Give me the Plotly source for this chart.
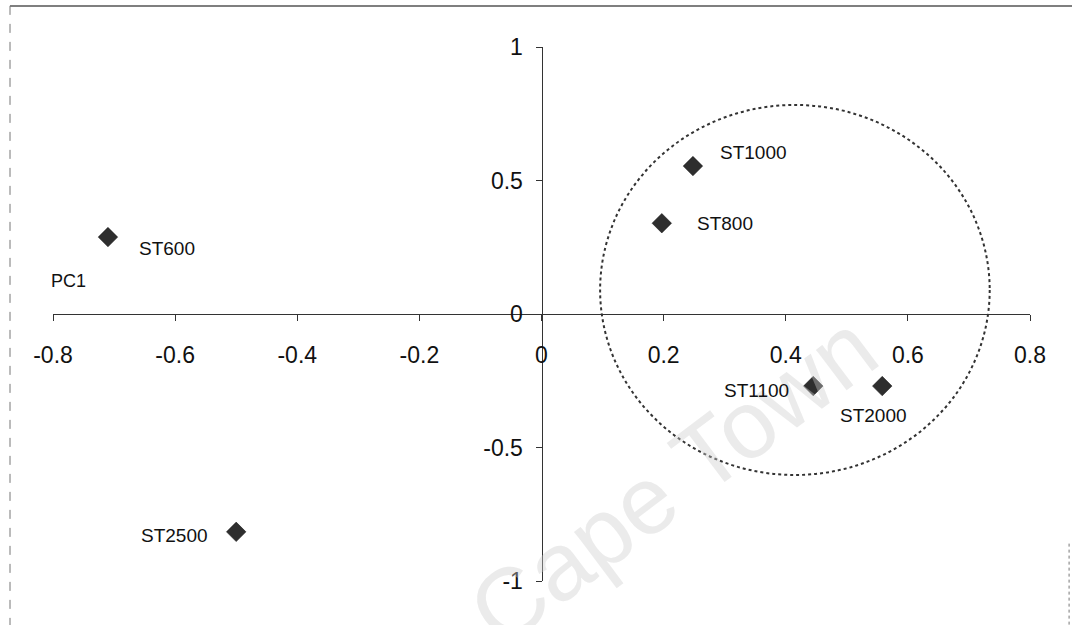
import plotly.graph_objects as go

# ---- data ----
names = ["ST600", "ST2500", "ST1000", "ST800", "ST1100", "ST2000"]
pc1 = [-0.71, -0.50, 0.248, 0.197, 0.445, 0.558]
pc2 = [0.288, -0.816, 0.554, 0.34, -0.27, -0.27]
x_ticks = [-0.8, -0.6, -0.4, -0.2, 0, 0.2, 0.4, 0.6, 0.8]
x_tick_text = ["-0.8", "-0.6", "-0.4", "-0.2", "0", "0.2", "0.4", "0.6", "0.8"]
y_ticks = [-1, -0.5, 0, 0.5, 1]
y_tick_text = ["-1", "-0.5", "0", "0.5", "1"]
# cluster ellipse (data units): x0, x1, y0, y1
ellipse = [0.096, 0.734, -0.603, 0.783]

# label placement (pixel offsets relative to each point)
label_style = {
    "ST600": dict(xshift=29, yshift=-11, xanchor="left"),
    "ST2500": dict(xshift=-26, yshift=-4, xanchor="right"),
    "ST1000": dict(xshift=25, yshift=14, xanchor="left"),
    "ST800": dict(xshift=33, yshift=0, xanchor="left"),
    "ST1100": dict(xshift=-22, yshift=-4, xanchor="right"),
    "ST2000": dict(xshift=-9, yshift=-29, xanchor="center"),
}

FONT = "Arial, Liberation Sans, sans-serif"

fig = go.Figure()
fig.add_trace(go.Scatter(
    x=pc1, y=pc2, mode="markers",
    marker=dict(symbol="diamond", size=15, color="#2e2e2e",
                line=dict(width=0.5, color="#111")),
    hoverinfo="text", text=names, showlegend=False, cliponaxis=False,
))

annotations = []
# watermark
annotations.append(dict(
    x=0.214, y=-0.618, xref="x", yref="y", text="Cape Town", showarrow=False,
    textangle=-37, font=dict(family=FONT, size=96, color="rgba(205,205,205,0.4)"),
))
for n, x, y in zip(names, pc1, pc2):
    s = label_style[n]
    annotations.append(dict(
        x=x, y=y, xref="x", yref="y", text=n, showarrow=False,
        xshift=s["xshift"], yshift=s["yshift"], xanchor=s["xanchor"], yanchor="middle",
        font=dict(family=FONT, size=19, color="#111"),
    ))
annotations.append(dict(x=-0.775, y=0.124, xref="x", yref="y", text="PC1", showarrow=False,
                        font=dict(family=FONT, size=18, color="#111")))
annotations.append(dict(x=0.105, y=1.02, xref="x", yref="y", text="PC2", showarrow=False,
                        font=dict(family=FONT, size=18, color="#111")))

shapes = [
    dict(type="circle", xref="x", yref="y",
         x0=ellipse[0], x1=ellipse[1], y0=ellipse[2], y1=ellipse[3],
         line=dict(color="#333", width=2, dash="dot"), layer="above"),
    # scan frame
    dict(type="line", xref="paper", yref="paper", x0=-0.044, x1=1.05, y0=1.077, y1=1.077,
         line=dict(color="#555", width=1.5)),
    dict(type="line", xref="paper", yref="paper", x0=-0.044, x1=-0.044, y0=1.077, y1=-0.09,
         line=dict(color="#777", width=1, dash="dash")),
    dict(type="line", xref="paper", yref="paper", x0=1.04, x1=1.04, y0=0.07, y1=-0.09,
         line=dict(color="#777", width=1, dash="dot")),
]

fig.update_layout(
    width=1072, height=625,
    margin=dict(l=53, r=42, t=47, b=44),
    paper_bgcolor="white", plot_bgcolor="white",
    font=dict(family=FONT, color="#111"),
    xaxis=dict(range=[-0.8, 0.8], tickvals=x_ticks, ticktext=x_tick_text,
               anchor="free", position=0.5, showgrid=False, zeroline=False,
               showline=True, linecolor="#333", linewidth=1,
               ticks="outside", ticklen=6, tickcolor="#333",
               ticklabelstandoff=14, tickfont=dict(size=23, family=FONT)),
    yaxis=dict(range=[-1, 1], tickvals=y_ticks, ticktext=y_tick_text,
               anchor="free", position=0.5, showgrid=False, zeroline=False,
               showline=True, linecolor="#333", linewidth=1,
               ticks="outside", ticklen=6, tickcolor="#333",
               ticklabelstandoff=8, tickfont=dict(size=23, family=FONT)),
    annotations=annotations,
    shapes=shapes,
)

fig.write_html("out.html")
